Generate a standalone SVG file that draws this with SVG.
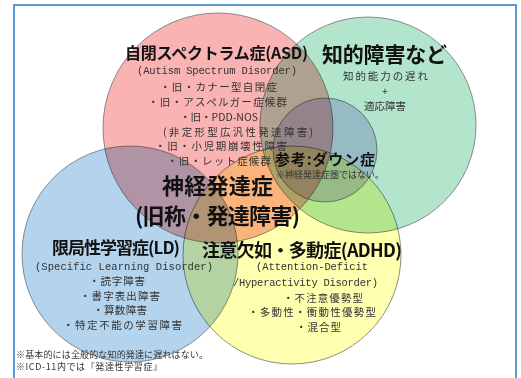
<svg xmlns="http://www.w3.org/2000/svg" width="521" height="378" viewBox="0 0 521 378">
<style>
.c{mix-blend-mode:multiply;stroke:#707070;stroke-width:0.8}
.t{font-family:"Noto Sans CJK JP","Noto Sans CJK SC",sans-serif;font-weight:700;fill:#111}
.b{font-family:"Noto Sans CJK JP","Noto Sans CJK SC",sans-serif;font-weight:400;fill:#333;font-size:10.5px}
.m{font-family:"Liberation Mono","DejaVu Sans Mono",monospace;fill:#333;font-size:10.5px}
.f{font-family:"Noto Sans CJK JP","Noto Sans CJK SC",sans-serif;fill:#333;font-size:9px}
.mid{text-anchor:middle}
</style>
<rect x="0" y="0" width="521" height="378" fill="#fff"/>
<rect x="14" y="5" width="502" height="390" fill="none" stroke="#5b9bd5" stroke-width="2"/>
<g id="circles" style="isolation:isolate">
  <circle id="c-asd" class="c" cx="218" cy="128" r="115" fill="#f9b3b3"/>
  <circle id="c-id" class="c" cx="368" cy="125" r="108" fill="#b3e5cd"/>
  <circle id="c-down" class="c" cx="325" cy="150" r="52" fill="#d6d0f4"/>
  <circle id="c-ld" class="c" cx="130" cy="254" r="108" fill="#b4d3ec"/>
  <circle id="c-adhd" class="c" cx="292" cy="255" r="109" fill="#ffffb0"/>
</g>
<g id="asd">
  <text class="t" x="125" y="59" font-size="16" textLength="183">自閉スペクトラム症(ASD)</text>
  <text class="m" x="137" y="74" textLength="160">(Autism Spectrum Disorder)</text>
  <text class="b" x="160" y="91" textLength="117">・旧・カナー型自閉症</text>
  <text class="b" x="148" y="106" textLength="139">・旧・アスペルガー症候群</text>
  <text class="b" x="180" y="121" textLength="78">・旧・PDD-NOS</text>
  <text class="b" x="163" y="136" textLength="150">(非定形型広汎性発達障害)</text>
  <text class="b" x="155" y="150" textLength="132">・旧・小児期崩壊性障害</text>
  <text class="b" x="167" y="165" textLength="104">・旧・レット症候群</text>
</g>
<g id="intellectual">
  <text class="t" x="322" y="62" font-size="21" textLength="125">知的障害など</text>
  <text class="b" x="343" y="80" font-size="12" textLength="85">知的能力の遅れ</text>
  <text class="b mid" x="385" y="95" font-size="13">+</text>
  <text class="b mid" x="385" y="110" font-size="12">適応障害</text>
</g>
<g id="down">
  <text class="t" x="275" y="165" font-size="15" textLength="100">参考:ダウン症</text>
  <text class="f" x="276" y="178" font-size="7.5">※神経発達症圏ではない。</text>
</g>
<g id="center">
  <text class="t" x="162" y="194" font-size="22" textLength="111">神経発達症</text>
  <text class="t" x="135" y="224" font-size="22" textLength="165">(旧称・発達障害)</text>
</g>
<g id="ld">
  <text class="t" x="52" y="254" font-size="17" textLength="128">限局性学習症(LD)</text>
  <text class="m" x="35" y="270" textLength="178">(Specific Learning Disorder)</text>
  <text class="b" x="89" y="285" textLength="56">・読字障害</text>
  <text class="b" x="80" y="300" textLength="80">・書字表出障害</text>
  <text class="b" x="93" y="314" textLength="54">・算数障害</text>
  <text class="b" x="63" y="329" textLength="119">・特定不能の学習障害</text>
</g>
<g id="adhd">
  <text class="t" x="202" y="257" font-size="18" textLength="200">注意欠如・多動症(ADHD)</text>
  <text class="m" x="256" y="270" textLength="112">(Attention-Deficit</text>
  <text class="m" x="233" y="286" textLength="145">/Hyperactivity Disorder)</text>
  <text class="b" x="283" y="302" textLength="80">・不注意優勢型</text>
  <text class="b" x="248" y="316" textLength="128">・多動性・衝動性優勢型</text>
  <text class="b" x="296" y="331" textLength="45">・混合型</text>
</g>
<g id="notes">
  <text class="f" x="16" y="358" textLength="192">※基本的には全般的な知的発達に遅れはない。</text>
  <text class="f" x="16" y="370" textLength="146">※ICD-11内では『発達性学習症』</text>
</g>
</svg>
